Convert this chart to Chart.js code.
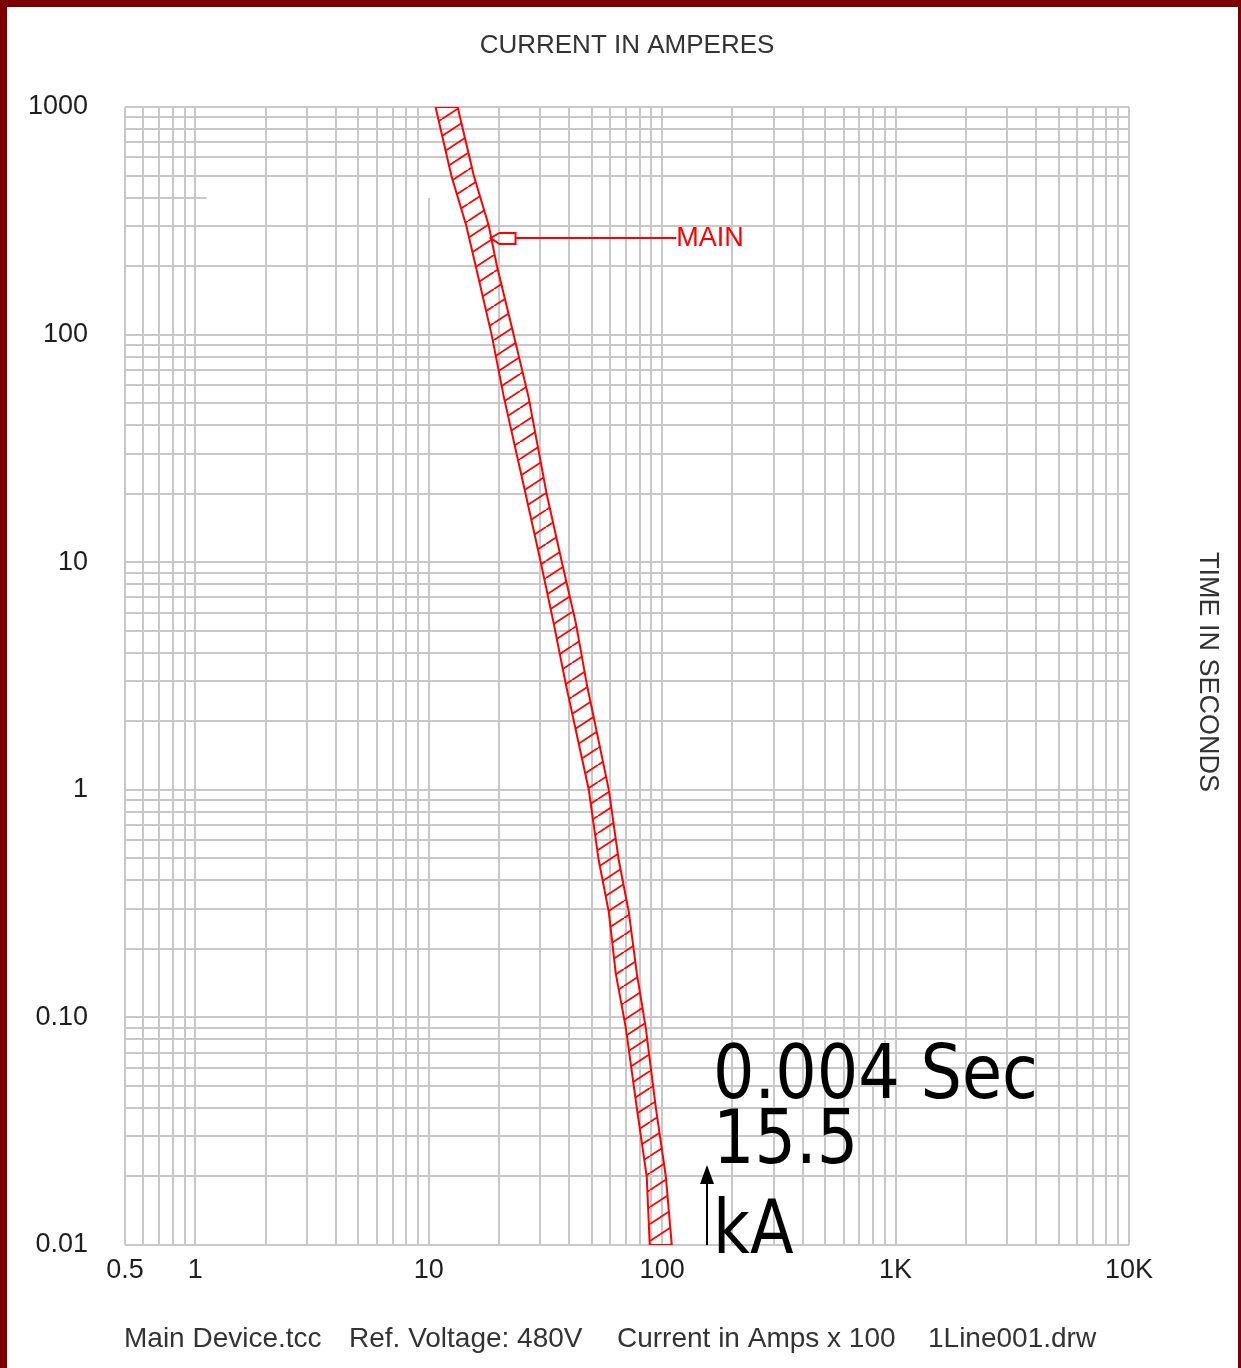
<!DOCTYPE html>
<html>
<head>
<meta charset="utf-8">
<title>Main Device TCC</title>
<script src="https://cdn.jsdelivr.net/npm/chart.js@4.4.1/dist/chart.umd.min.js"></script>
<style>
  html, body { margin: 0; padding: 0; background: #ffffff; }
  #wrap { position: relative; width: 1241px; height: 1368px; }
  canvas { display: block; }
</style>
</head>
<body>
<div id="wrap"><canvas id="tcc" width="1241" height="1368"></canvas></div>
<script>
// ---- Time-current band of the MAIN device (current in amps x 100, time in seconds) ----
const bandTime   = [1000, 500, 300, 200, 100, 53, 20, 10, 5.4, 2.9, 1.0, 0.49, 0.29, 0.156, 0.09, 0.04, 0.02, 0.01];
const minCurrent = [10.7, 12.5, 14.5, 15.9, 18.6, 21.0, 26.0, 30.2, 34.3, 38.7, 48.5, 53.5, 59.1, 63.3, 69.9, 77.9, 85.9, 88.5];
const maxCurrent = [13.3, 15.6, 18.1, 19.6, 23.1, 26.8, 32.0, 37.2, 42.7, 47.6, 59.1, 65.2, 72.0, 77.9, 85.1, 94.0, 103.7, 110];

// ---- Axis labels ----
const xLabelValues = [0.5, 1, 10, 100, 1000, 10000];
const xLabelText   = ['0.5', '1', '10', '100', '1K', '10K'];
const yLabelValues = [0.01, 0.1, 1, 10, 100, 1000];
const yLabelText   = ['0.01', '0.10', '1', '10', '100', '1000'];
const xDecades = [0.1, 1, 10, 100, 1000];
const yDecades = [0.01, 0.1, 1, 10, 100];

// ---- Device tag and fault marker ----
const mainTag = { text: 'MAIN', time: 267, current: 18.4, labelAt: 115 };
const faultCurrent = 155;              // 15.5 kA = 155 x 100 A
const faultText = ['0.004 Sec', '15.5', 'kA'];

// ---- Titles and footer ----
const topTitle = 'CURRENT IN AMPERES';
const sideTitle = 'TIME IN SECONDS';
const footerParts = ['Main Device.tcc', 'Ref. Voltage: 480V', 'Current in Amps x 100', '1Line001.drw'];

// gridline values: every 1..9 multiple within each decade
function gridValues(decades, lo, top) {
  const out = [];
  decades.forEach(d => {
    for (let m = 1; m <= 9; m++) {
      const v = Number((m * d).toPrecision(6));
      if (v >= lo) out.push(v);
    }
  });
  out.push(top);
  return out;
}
const xGrid = gridValues(xDecades, 0.5, 10000);
const yGrid = gridValues(yDecades, 0.01, 1000);

function labelFor(value, vals, texts) {
  const i = vals.findIndex(v => Math.abs(v - value) / v < 1e-6);
  return i >= 0 ? texts[i] : '';
}

// closed outline of the band: minimum-current edge down, maximum-current edge back up
const bandPoints = [];
bandTime.forEach((t, i) => bandPoints.push({ x: minCurrent[i], y: t }));
for (let i = bandTime.length - 1; i >= 0; i--) bandPoints.push({ x: maxCurrent[i], y: bandTime[i] });
bandPoints.push({ x: minCurrent[0], y: bandTime[0] });

const RED = '#ff0000';
const GRID = '#c8c8c8';
const SANS = '"Liberation Sans", Arial, sans-serif';

// diagonal hatching used inside the band
function hatchPattern() {
  const w = 26, h = 17;
  const c = document.createElement('canvas');
  c.width = w; c.height = h;
  const g = c.getContext('2d');
  g.strokeStyle = RED;
  g.lineWidth = 1.8;
  g.beginPath();
  g.moveTo(0, h); g.lineTo(w, 0);
  g.moveTo(-w, h); g.lineTo(0, 0);
  g.moveTo(w, h); g.lineTo(2 * w, 0);
  g.stroke();
  return g.createPattern(c, 'repeat');
}

// page frame
const framePlugin = {
  id: 'frame',
  beforeDraw(chart) {
    const { ctx, width, height } = chart;
    ctx.save();
    ctx.fillStyle = '#ffffff';
    ctx.fillRect(0, 0, width, height);
    ctx.fillStyle = '#7d0000';
    ctx.fillRect(0, 0, width, 7);
    ctx.fillRect(0, 0, 7, height);
    ctx.fillRect(width - 3, 0, 3, height);
    ctx.restore();
  }
};

// the 10 A line and 400 s line only run part way across the grid
const partialGridPlugin = {
  id: 'partialGrid',
  beforeDatasetsDraw(chart) {
    const { ctx, chartArea: a, scales: { x, y } } = chart;
    ctx.save();
    ctx.strokeStyle = GRID;
    ctx.lineWidth = 2;
    const x10 = Math.round(x.getPixelForValue(10));
    const y400 = Math.round(y.getPixelForValue(400));
    ctx.beginPath();
    ctx.moveTo(x10, y400);
    ctx.lineTo(x10, a.bottom);
    ctx.moveTo(a.left, y400);
    ctx.lineTo(x.getPixelForValue(1.12), y400);
    ctx.stroke();
    ctx.restore();
  }
};

function drawNarrow(ctx, text, px, py, sx) {
  ctx.save();
  ctx.translate(px, py);
  ctx.scale(sx, 1);
  ctx.fillText(text, 0, 0);
  ctx.restore();
}

// titles, device tag, fault marker and footer
const textPlugin = {
  id: 'tccText',
  afterDraw(chart) {
    const { ctx, chartArea: a, scales: { x, y } } = chart;
    ctx.save();

    ctx.fillStyle = '#333333';
    ctx.font = '26px ' + SANS;
    ctx.textAlign = 'center';
    ctx.textBaseline = 'middle';
    ctx.fillText(topTitle, (a.left + a.right) / 2, 46);

    ctx.save();
    ctx.font = '27px ' + SANS;
    ctx.translate(1207, 672);
    ctx.rotate(Math.PI / 2);
    ctx.fillText(sideTitle, 0, 0);
    ctx.restore();

    ctx.textAlign = 'left';
    ctx.font = '28px ' + SANS;
    const footerX = [124, 349, 617, 928];
    footerParts.forEach((t, i) => ctx.fillText(t, footerX[i], 1339));

    // MAIN tag: flag on the band edge, leader line and name
    const ty = Math.round(y.getPixelForValue(mainTag.time));
    const tipX = x.getPixelForValue(mainTag.current);
    const endX = x.getPixelForValue(mainTag.labelAt);
    ctx.strokeStyle = RED;
    ctx.lineWidth = 2;
    ctx.beginPath();
    ctx.moveTo(tipX, ty);
    ctx.lineTo(tipX + 9, ty - 5);
    ctx.lineTo(tipX + 25, ty - 5);
    ctx.lineTo(tipX + 25, ty + 6);
    ctx.lineTo(tipX + 9, ty + 6);
    ctx.closePath();
    ctx.stroke();
    ctx.beginPath();
    ctx.moveTo(tipX + 25, ty);
    ctx.lineTo(endX, ty);
    ctx.stroke();
    ctx.fillStyle = RED;
    ctx.font = '27px ' + SANS;
    ctx.textBaseline = 'middle';
    ctx.fillText(mainTag.text, endX, ty + 1);

    // available fault current marker
    const fx = Math.round(x.getPixelForValue(faultCurrent));
    ctx.strokeStyle = '#000000';
    ctx.fillStyle = '#000000';
    ctx.lineWidth = 2;
    ctx.beginPath();
    ctx.moveTo(fx, a.bottom);
    ctx.lineTo(fx, a.bottom - 62);
    ctx.stroke();
    ctx.beginPath();
    ctx.moveTo(fx - 7, a.bottom - 61);
    ctx.lineTo(fx + 7, a.bottom - 61);
    ctx.lineTo(fx, a.bottom - 80);
    ctx.closePath();
    ctx.fill();

    ctx.font = '75px "DejaVu Sans", Verdana, sans-serif';
    ctx.textBaseline = 'alphabetic';
    ctx.textAlign = 'left';
    const tx = fx + 6;
    drawNarrow(ctx, faultText[0], tx, a.bottom - 147, 0.87);
    drawNarrow(ctx, faultText[1], tx, a.bottom - 82, 0.87);
    drawNarrow(ctx, faultText[2], tx, a.bottom + 8, 0.85);

    ctx.restore();
  }
};

const ctx = document.getElementById('tcc').getContext('2d');
new Chart(ctx, {
  type: 'line',
  data: {
    datasets: [{
      label: 'MAIN',
      data: bandPoints,
      borderColor: RED,
      borderWidth: 2,
      backgroundColor: hatchPattern(),
      fill: 'shape',
      pointRadius: 0,
      tension: 0
    }]
  },
  options: {
    responsive: false,
    animation: false,
    events: [],
    layout: { padding: { left: 25, top: 107, right: 112, bottom: 63 } },
    plugins: {
      legend: { display: false },
      tooltip: { enabled: false },
      title: { display: false }
    },
    scales: {
      x: {
        type: 'logarithmic',
        position: 'bottom',
        min: 0.5,
        max: 10000,
        afterBuildTicks: s => { s.ticks = xGrid.map(v => ({ value: v })); },
        afterFit: s => { s.height = 60; },
        border: { display: false },
        grid: {
          color: c => (c.tick && c.tick.value === 10) ? 'rgba(0,0,0,0)' : GRID,
          lineWidth: 2,
          drawTicks: false
        },
        ticks: {
          autoSkip: false,
          maxRotation: 0,
          minRotation: 0,
          padding: 9,
          color: '#1e1e1e',
          font: { family: SANS, size: 27 },
          callback: v => labelFor(v, xLabelValues, xLabelText)
        }
      },
      y: {
        type: 'logarithmic',
        position: 'left',
        min: 0.01,
        max: 1000,
        afterBuildTicks: s => { s.ticks = yGrid.map(v => ({ value: v })); },
        afterFit: s => { s.width = 100; },
        border: { display: false },
        grid: {
          color: c => (c.tick && c.tick.value === 400) ? 'rgba(0,0,0,0)' : GRID,
          lineWidth: 2,
          drawTicks: false
        },
        ticks: {
          autoSkip: false,
          padding: 37,
          color: '#1e1e1e',
          font: { family: SANS, size: 27 },
          callback: v => labelFor(v, yLabelValues, yLabelText)
        }
      }
    }
  },
  plugins: [framePlugin, partialGridPlugin, textPlugin]
});
</script>
</body>
</html>
